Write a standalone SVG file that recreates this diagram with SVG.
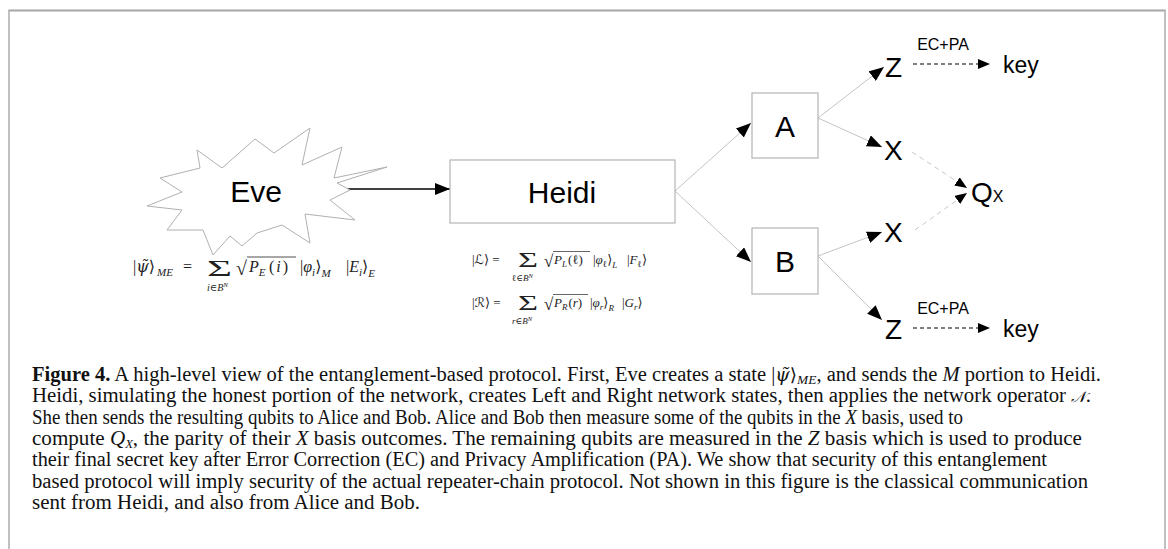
<svg xmlns="http://www.w3.org/2000/svg" width="1168" height="549" viewBox="0 0 1168 549">
<style>
.lbl{font-family:"Liberation Sans",Arial,sans-serif;fill:#000;}
.box{fill:#fff;stroke:#b4b4b4;stroke-width:1.2;}
.gl{stroke:#c4c4c4;stroke-width:1;fill:none;}
.gd{stroke:#c8c8c8;stroke-width:1;fill:none;stroke-dasharray:5 4;}
.kd{stroke:#000;stroke-width:1.2;fill:none;stroke-dasharray:4 3;}
.m{font-family:"Liberation Serif","DejaVu Serif",serif;fill:#222;}
.i{font-style:italic;}
.ab{font-family:"DejaVu Sans",sans-serif;}
.dv{font-family:"DejaVu Serif",serif;}
.cap{font-family:"Liberation Serif","Times New Roman",serif;font-size:20px;fill:#111;}
</style>
<defs>
<marker id="ah" markerUnits="userSpaceOnUse" markerWidth="15" markerHeight="12" refX="15" refY="6" orient="auto">
<path d="M0,0 L15,6 L0,12 z" fill="#000"/>
</marker>
<marker id="ahs" markerUnits="userSpaceOnUse" markerWidth="12" markerHeight="10" refX="12" refY="5" orient="auto">
<path d="M0,0 L12,5 L0,10 z" fill="#000"/>
</marker>
</defs>
<rect width="1168" height="549" fill="#fff"/>
<!-- frame -->
<path d="M9,549 V10.5 H1165 V549" fill="none" stroke="#c0c0c0" stroke-width="2"/>
<line x1="9" y1="10.5" x2="1165" y2="10.5" stroke="#a8a8a8" stroke-width="1.5"/>

<g id="connectors">
<line x1="347" y1="189" x2="450" y2="189" stroke="#000" stroke-width="1.3" marker-end="url(#ah)"/>
<line class="gl" x1="675" y1="191" x2="751" y2="123" marker-end="url(#ah)"/>
<line class="gl" x1="675" y1="191" x2="751" y2="262" marker-end="url(#ah)"/>
<line class="gl" x1="818" y1="118" x2="884" y2="67" marker-end="url(#ah)"/>
<line class="gl" x1="818" y1="118" x2="882" y2="147" marker-end="url(#ah)"/>
<line class="gl" x1="818" y1="256" x2="882" y2="232" marker-end="url(#ah)"/>
<line class="gl" x1="818" y1="256" x2="882" y2="320" marker-end="url(#ah)"/>
<line class="gd" x1="912" y1="152" x2="967" y2="188" marker-end="url(#ahs)"/>
<line class="gd" x1="915" y1="230" x2="967" y2="193" marker-end="url(#ahs)"/>
<line class="kd" x1="913" y1="64" x2="990" y2="64" marker-end="url(#ahs)"/>
<line class="kd" x1="913" y1="328" x2="990" y2="328" marker-end="url(#ahs)"/>
<text class="lbl" x="943" y="50" font-size="16" text-anchor="middle">EC+PA</text>
<text class="lbl" x="943" y="314" font-size="16" text-anchor="middle">EC+PA</text>
</g>

<g id="eve">
<polygon points="197,150 222,168 255,139 274,153 310,128 302,165 342,147 334,178 387,167 337,183 350,190 330,200 355,220 305,214 310,243 282,225 257,233 242,246 230,236 213,255 203,230 167,230 182,210 147,206 182,192 160,178 200,168" fill="#fff" stroke="#b0b0b0" stroke-width="1"/>
<text class="lbl" x="256" y="202" font-size="30" text-anchor="middle">Eve</text>
</g>

<g id="heidi">
<rect class="box" x="450" y="160" width="225" height="63"/>
<text class="lbl" x="562" y="203" font-size="30" text-anchor="middle">Heidi</text>
</g>

<g id="alice">
<rect class="box" x="752" y="93" width="66" height="65"/>
<text class="lbl" x="785" y="137" font-size="30" text-anchor="middle">A</text>
</g>

<g id="bob">
<rect class="box" x="752" y="228" width="66" height="66"/>
<text class="lbl" x="785" y="272" font-size="30" text-anchor="middle">B</text>
</g>

<g id="z-top"><text class="lbl" x="885" y="77" font-size="28">Z</text></g>
<g id="x-top"><text class="lbl" x="884" y="160" font-size="28">X</text></g>
<g id="x-bot"><text class="lbl" x="884" y="242" font-size="28">X</text></g>
<g id="z-bot"><text class="lbl" x="885" y="339" font-size="28">Z</text></g>
<g id="key-top"><text class="lbl" x="1003" y="73" font-size="23">key</text></g>
<g id="key-bot"><text class="lbl" x="1003" y="337" font-size="23">key</text></g>
<g id="qx"><text class="lbl" x="971" y="202" font-size="28">Q<tspan font-size="16">X</tspan></text></g>

<!-- Eve formula -->
<g id="eve-formula" class="m">
<text x="133" y="272" font-size="16">|<tspan class="i dv">ψ̃</tspan><tspan class="ab">⟩</tspan></text>
<text x="157" y="276" font-size="11" class="i">ME</text>
<text x="183" y="272" font-size="16">=</text>
<text x="207" y="276" font-size="24" textLength="25" lengthAdjust="spacingAndGlyphs">Σ</text>
<text x="207" y="291" font-size="10"><tspan class="i">i</tspan>∈<tspan class="i">B</tspan><tspan class="i" font-size="7" dy="-4">N</tspan></text>
<text x="236" y="275" font-size="20">√</text>
<line x1="247" y1="257" x2="296" y2="257" stroke="#222" stroke-width="0.8"/>
<text x="249" y="272" font-size="16" class="i">P<tspan font-size="11" dy="4">E</tspan></text>
<text x="269" y="272" font-size="16">(<tspan class="i" dx="2">i</tspan><tspan dx="2">)</tspan></text>
<text x="300" y="272" font-size="16">|<tspan class="i">φ</tspan><tspan class="i" font-size="11" dy="4">i</tspan><tspan class="ab" dy="-4">⟩</tspan><tspan class="i" font-size="11" dy="5">M</tspan></text>
<text x="346" y="272" font-size="16">|<tspan class="i">E</tspan><tspan class="i" font-size="11" dy="4">i</tspan><tspan class="ab" dy="-4">⟩</tspan><tspan class="i" font-size="11" dy="5">E</tspan></text>
</g>

<!-- Heidi formulas -->
<g id="heidi-formula" class="m">
<text x="472" y="264" font-size="13">|<tspan class="ab">ℒ⟩</tspan> =</text>
<text x="518" y="267" font-size="20" textLength="20" lengthAdjust="spacingAndGlyphs">Σ</text>
<text x="512" y="281" font-size="9">ℓ∈<tspan class="i">B</tspan><tspan class="i" font-size="6.5" dy="-3">N</tspan></text>
<text x="544" y="267" font-size="17">√</text>
<line x1="553" y1="251.5" x2="590" y2="251.5" stroke="#222" stroke-width="0.7"/>
<text x="554" y="264" font-size="13" class="i">P<tspan font-size="9" dy="3">L</tspan><tspan font-style="normal" dy="-3" dx="1">(ℓ)</tspan></text>
<text x="593" y="264" font-size="13">|<tspan class="i">φ</tspan><tspan font-size="9" dy="3">ℓ</tspan><tspan class="ab" dy="-3">⟩</tspan><tspan class="i" font-size="9" dy="4">L</tspan></text>
<text x="627" y="264" font-size="13">|<tspan class="i">F</tspan><tspan font-size="9" dy="3">ℓ</tspan><tspan class="ab" dy="-3">⟩</tspan></text>

<text x="472" y="307" font-size="13">|<tspan class="ab">ℛ⟩</tspan> =</text>
<text x="518" y="310" font-size="20" textLength="20" lengthAdjust="spacingAndGlyphs">Σ</text>
<text x="512" y="324" font-size="9"><tspan class="i">r</tspan>∈<tspan class="i">B</tspan><tspan class="i" font-size="6.5" dy="-3">N</tspan></text>
<text x="544" y="310" font-size="17">√</text>
<line x1="553" y1="294.5" x2="588" y2="294.5" stroke="#222" stroke-width="0.7"/>
<text x="554" y="307" font-size="13" class="i">P<tspan font-size="9" dy="3">R</tspan><tspan font-style="normal" dy="-3" dx="1">(<tspan class="i">r</tspan>)</tspan></text>
<text x="590" y="307" font-size="13">|<tspan class="i">φ</tspan><tspan class="i" font-size="9" dy="3">r</tspan><tspan class="ab" dy="-3">⟩</tspan><tspan class="i" font-size="9" dy="4">R</tspan></text>
<text x="622" y="307" font-size="13">|<tspan class="i">G</tspan><tspan class="i" font-size="9" dy="3">r</tspan><tspan class="ab" dy="-3">⟩</tspan></text>
</g>

<!-- caption -->
<g id="caption" class="cap">
<text x="32" y="381" textLength="1069" lengthAdjust="spacingAndGlyphs"><tspan font-weight="bold">Figure 4.</tspan> A high-level view of the entanglement-based protocol. First, Eve creates a state |<tspan class="i dv" font-size="18">ψ̃</tspan><tspan class="ab" font-size="18">⟩</tspan><tspan class="i" font-size="13" dy="3">ME</tspan><tspan dy="-3">, and sends the </tspan><tspan class="i">M</tspan> portion to Heidi.</text>
<text x="32" y="402.3" textLength="1059" lengthAdjust="spacingAndGlyphs">Heidi, simulating the honest portion of the network, creates Left and Right network states, then applies the network operator <tspan class="i" font-size="15">𝒩</tspan>.</text>
<text x="32" y="423.6" textLength="931" lengthAdjust="spacingAndGlyphs">She then sends the resulting qubits to Alice and Bob. Alice and Bob then measure some of the qubits in the <tspan class="i">X</tspan> basis, used to</text>
<text x="32" y="444.9" textLength="1050" lengthAdjust="spacingAndGlyphs">compute <tspan class="i">Q</tspan><tspan class="i" font-size="12" dy="3">X</tspan><tspan dy="-3">, the parity of their </tspan><tspan class="i">X</tspan> basis outcomes. The remaining qubits are measured in the <tspan class="i">Z</tspan> basis which is used to produce</text>
<text x="32" y="466.2" textLength="1015" lengthAdjust="spacingAndGlyphs">their final secret key after Error Correction (EC) and Privacy Amplification (PA). We show that security of this entanglement</text>
<text x="32" y="487.5" textLength="1056" lengthAdjust="spacingAndGlyphs">based protocol will imply security of the actual repeater-chain protocol. Not shown in this figure is the classical communication</text>
<text x="32" y="508.8" textLength="388" lengthAdjust="spacingAndGlyphs">sent from Heidi, and also from Alice and Bob.</text>
</g>
</svg>
